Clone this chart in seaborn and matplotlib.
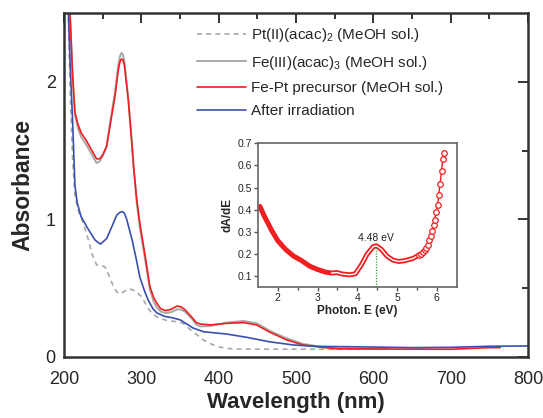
import numpy as np
import pandas as pd
import seaborn as sns
import matplotlib
matplotlib.use("Agg")
import matplotlib.pyplot as plt

# --- main spectra (wavelength nm, absorbance) ---
pt_wl = [205, 208, 211, 214, 219, 225, 231, 236, 242, 248, 253, 259, 264, 270, 276,
         283, 288, 294, 300, 305, 309, 315, 322, 333, 348, 355, 363, 372, 380, 390,
         397, 408, 419, 450, 500, 550, 615]
pt_abs = [2.6, 1.9, 1.45, 1.17, 1.05, 0.97, 0.86, 0.75, 0.67, 0.665, 0.655, 0.58, 0.51,
          0.46, 0.47, 0.495, 0.49, 0.47, 0.44, 0.39, 0.35, 0.31, 0.285, 0.265, 0.255,
          0.24, 0.20, 0.16, 0.124, 0.095, 0.078, 0.064, 0.058, 0.057, 0.057, 0.056, 0.056]

fe_wl = [206, 208, 211, 214, 218, 222, 229, 236, 242, 246, 250, 255, 260, 266, 270, 272,
         274, 276, 278, 283, 287, 290, 294, 298, 305, 311, 316, 320, 325, 331, 338, 346,
         351, 356, 365, 371, 376, 389, 410, 432, 449, 466, 488, 509, 531, 553, 600, 620]
fe_abs = [2.6, 2.45, 2.05, 1.76, 1.66, 1.60, 1.54, 1.47, 1.41, 1.42, 1.46, 1.53, 1.72,
          1.93, 2.12, 2.18, 2.21, 2.2, 2.15, 1.88, 1.6, 1.37, 1.12, 0.94, 0.70, 0.49,
          0.40, 0.36, 0.33, 0.32, 0.325, 0.346, 0.345, 0.33, 0.28, 0.235, 0.222, 0.225,
          0.25, 0.262, 0.245, 0.19, 0.135, 0.095, 0.075, 0.062, 0.058, 0.058]

fept_wl = [206, 208, 211, 214, 218, 222, 229, 236, 242, 246, 250, 255, 260, 266, 270, 272,
           274, 276, 278, 283, 287, 290, 294, 298, 305, 311, 316, 320, 325, 331, 338, 346,
           351, 356, 365, 371, 376, 389, 410, 432, 449, 466, 488, 509, 531, 553, 600, 650,
           700, 725, 745, 764]
fept_abs = [2.6, 2.45, 2.05, 1.78, 1.69, 1.63, 1.57, 1.50, 1.44, 1.44, 1.47, 1.53, 1.70,
            1.90, 2.08, 2.14, 2.165, 2.16, 2.12, 1.87, 1.6, 1.38, 1.14, 0.97, 0.73, 0.51,
            0.43, 0.39, 0.35, 0.337, 0.345, 0.37, 0.365, 0.345, 0.29, 0.25, 0.24, 0.233,
            0.244, 0.25, 0.233, 0.18, 0.124, 0.087, 0.072, 0.06, 0.058, 0.057, 0.056,
            0.062, 0.067, 0.068]

irr_wl = [205, 208, 211, 214, 217, 222, 230, 240, 247, 255, 262, 268, 272, 275, 278, 281,
          288, 293, 298, 304, 309, 315, 320, 330, 340, 350, 360, 367, 380, 395, 410, 436,
          466, 497, 527, 560, 600, 650, 700, 750, 800]
irr_abs = [2.6, 2.1, 1.72, 1.25, 1.12, 1.02, 0.94, 0.85, 0.82, 0.86, 0.95, 1.03, 1.05,
           1.057, 1.045, 1.0, 0.85, 0.72, 0.58, 0.48, 0.41, 0.35, 0.32, 0.295, 0.285,
           0.27, 0.235, 0.21, 0.184, 0.175, 0.167, 0.143, 0.11, 0.087, 0.077, 0.075,
           0.072, 0.068, 0.07, 0.078, 0.08]

# --- inset: dA/dE vs photon energy ---
e_dense = [1.55, 1.65, 1.75, 1.85, 2.0, 2.2, 2.4, 2.6, 2.8, 3.0, 3.2, 3.35, 3.5, 3.6,
           3.8, 3.95, 4.1, 4.25, 4.4, 4.48, 4.6, 4.75, 4.9, 5.05, 5.2, 5.4, 5.55]
d_dense = [0.415, 0.375, 0.34, 0.305, 0.26, 0.22, 0.19, 0.17, 0.145, 0.13, 0.118, 0.114,
           0.116, 0.11, 0.106, 0.11, 0.15, 0.20, 0.233, 0.237, 0.222, 0.19, 0.172, 0.166,
           0.17, 0.18, 0.195]
e_sparse = [5.55, 5.6, 5.65, 5.7, 5.74, 5.77, 5.81, 5.85, 5.88, 5.92, 5.95, 5.98, 6.02,
            6.05, 6.08, 6.12, 6.15, 6.18]
d_sparse = [0.195, 0.2, 0.21, 0.218, 0.228, 0.24, 0.262, 0.28, 0.305, 0.33, 0.355, 0.39,
            0.42, 0.468, 0.516, 0.573, 0.63, 0.655]
peak_e = 4.48
peak_d = 0.237

c_red = "#f01e1e"
c_gray = "#a8a8a8"
c_blue = "#3a4fae"

sns.set_style("white")
plt.rcParams["font.family"] = ["Liberation Sans", "DejaVu Sans"]
plt.rcParams["mathtext.fontset"] = "custom"
plt.rcParams["mathtext.rm"] = "Liberation Sans"
plt.rcParams["mathtext.it"] = "Liberation Sans:italic"
plt.rcParams["mathtext.bf"] = "Liberation Sans:bold"

fig = plt.figure(figsize=(5.43, 4.18), dpi=100)
ax = fig.add_axes([0.118, 0.146, 0.8545, 0.823])

sns.lineplot(x=pt_wl, y=pt_abs, ax=ax, color=c_gray, lw=1.2, ls=(0, (3, 2.5)),
             label="Pt(II)(acac)$_\\mathrm{2}$ (MeOH sol.)", sort=False)
sns.lineplot(x=fe_wl, y=fe_abs, ax=ax, color=c_gray, lw=1.4,
             label="Fe(III)(acac)$_\\mathrm{3}$ (MeOH sol.)", sort=False)
sns.lineplot(x=fept_wl, y=fept_abs, ax=ax, color=c_red, lw=1.2,
             label="Fe-Pt precursor (MeOH sol.)", sort=False)
sns.lineplot(x=irr_wl, y=irr_abs, ax=ax, color=c_blue, lw=1.2,
             label="After irradiation", sort=False)

ax.set_xlim(200, 800)
ax.set_ylim(0, 2.5)
ax.set_xticks([200, 300, 400, 500, 600, 700, 800])
ax.set_xticks(np.arange(250, 800, 100), minor=True)
ax.set_yticks([0, 1, 2])
ax.set_yticks([0.5, 1.5], minor=True)
ax.tick_params(which="both", direction="in", top=True, right=True, color="#333333",
               width=1.4, labelsize=13)
ax.tick_params(axis="x", pad=10)
ax.tick_params(axis="y", pad=6)
ax.tick_params(which="major", length=7)
ax.tick_params(which="minor", length=4)
for s in ax.spines.values():
    s.set_linewidth(1.8)
    s.set_color("#333333")
ax.set_xlabel("Wavelength (nm)", fontsize=16, fontweight="bold", labelpad=3)
ax.set_ylabel("Absorbance", fontsize=16.5, fontweight="bold", labelpad=8)

leg = ax.legend(loc="upper left", bbox_to_anchor=(0.287, 0.962), frameon=False,
                fontsize=11, handlelength=3.2, handletextpad=0.35, labelspacing=0.62,
                borderpad=0, borderaxespad=0)

# inset
ins = fig.add_axes([0.475, 0.313, 0.366, 0.344])
sns.lineplot(x=e_dense, y=d_dense, ax=ins, color=c_red, lw=3.6, sort=False)
sns.lineplot(x=e_dense[11:], y=d_dense[11:], ax=ins, color="white", lw=1.0, sort=False)
sns.lineplot(x=e_sparse, y=d_sparse, ax=ins, color=c_red, lw=1.0, marker="o",
             markersize=4, markerfacecolor="white", markeredgecolor=c_red,
             markeredgewidth=0.9, sort=False)
ins.plot([peak_e, peak_e], [0.05, peak_d], color="#3aa03a", lw=0.9, ls=(0, (1, 1.2)))
ins.text(peak_e, peak_d + 0.012, "4.48 eV", ha="center", va="bottom", fontsize=7.5,
         color="#222222")
ins.set_xlim(1.5, 6.5)
ins.set_ylim(0.05, 0.7)
ins.set_xticks([2, 3, 4, 5, 6])
ins.set_xticks(np.arange(2.5, 6.5, 1.0), minor=True)
ins.set_yticks([0.1, 0.2, 0.3, 0.4, 0.5, 0.6, 0.7])
ins.set_yticklabels(["0.1", "0.2", "0.3", "0.4", "0.5", "0.6", "0.7"])
ins.tick_params(which="both", direction="out", color="#555555", width=1.0,
                labelsize=7.5, pad=1.5, left=True, bottom=True)
ins.tick_params(which="major", length=3)
ins.tick_params(which="minor", length=2)
for s in ins.spines.values():
    s.set_linewidth(1.2)
    s.set_color("#666666")
ins.set_xlabel("Photon. E (eV)", fontsize=8.5, fontweight="bold", labelpad=1)
ins.set_ylabel("dA/dE", fontsize=8.5, fontweight="bold", labelpad=3)

fig.savefig("out.png", dpi=100)
